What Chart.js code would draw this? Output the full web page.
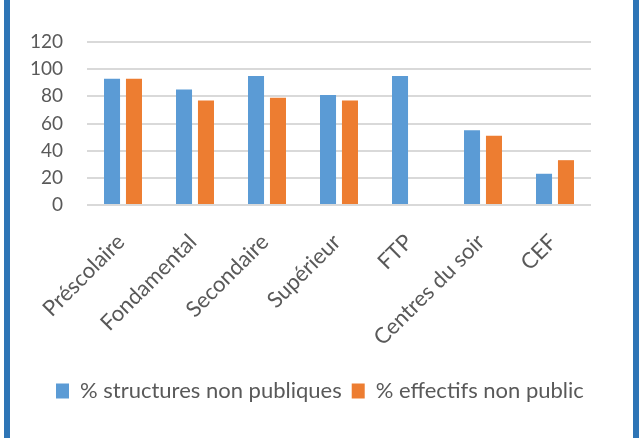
<!DOCTYPE html>
<html>
<head>
<meta charset="utf-8">
<script src="https://cdn.jsdelivr.net/npm/chart.js@4"></script>
<style>
  html, body { margin: 0; padding: 0; background: #fff; }
  #frame { position: absolute; left: 0; top: 0; width: 640px; height: 438px; background: #fff; }
  #bl { position: absolute; left: 4px; top: 0; width: 6px; height: 438px; background: #2E75B6; }
  #br { position: absolute; left: 633px; top: 0; width: 6px; height: 438px; background: #2E75B6; }
  #wrap { position: absolute; left: 10px; top: 0; width: 623px; height: 438px; }
</style>
</head>
<body>
<div id="frame">
  <div id="bl"></div>
  <div id="br"></div>
  <div id="wrap"><canvas id="c" width="623" height="438"></canvas></div>
</div>
<script>
const categories = ["Préscolaire", "Fondamental", "Secondaire", "Supérieur", "FTP", "Centres du soir", "CEF"];
const structuresNonPubliques = [93, 85, 95, 81, 95, 55, 23];
const effectifsNonPublic = [93, 77, 79, 77, null, 51, 33];
const seriesLabels = ["% structures non publiques", "% effectifs non public"];
const yTicks = [0, 20, 40, 60, 80, 100, 120];

const FONT = "Lato, 'Open Sans', sans-serif";
const TEXT = "#595959";

// shift the legend block to the right, as in the original
const legendShift = {
  id: "legendShift",
  afterLayout(chart) {
    if (chart.legend) { chart.legend.left += 20; chart.legend.right += 20; }
  }
};

new Chart(document.getElementById("c"), {
  type: "bar",
  data: {
    labels: categories,
    datasets: [
      { label: seriesLabels[0], data: structuresNonPubliques, backgroundColor: "#5B9BD5",
        categoryPercentage: 0.61, barPercentage: 0.73 },
      { label: seriesLabels[1], data: effectifsNonPublic, backgroundColor: "#ED7D31",
        categoryPercentage: 0.61, barPercentage: 0.73 }
    ]
  },
  plugins: [legendShift],
  options: {
    responsive: false,
    animation: false,
    layout: { padding: { top: 42, right: 42, left: 16, bottom: 26 } },
    plugins: {
      tooltip: { enabled: false },
      title: { display: false },
      legend: {
        position: "bottom",
        align: "start",
        labels: {
          color: TEXT,
          font: { family: FONT, size: 22 },
          boxWidth: 13,
          boxHeight: 15,
          padding: 10
        }
      }
    },
    scales: {
      x: {
        grid: { display: false },
        border: { display: false },
        ticks: {
          color: TEXT,
          font: { family: FONT, size: 22 },
          minRotation: 45,
          maxRotation: 45,
          padding: 16,
          labelOffset: -2
        },
        afterFit: (s) => { s.height = 165; }
      },
      y: {
        min: 0,
        max: 120,
        afterBuildTicks: (s) => { s.ticks = yTicks.map(v => ({ value: v })); },
        grid: { color: "#D9D9D9", lineWidth: 2, drawTicks: false },
        border: { display: false },
        ticks: {
          color: TEXT,
          font: { family: FONT, size: 19 },
          padding: 24
        },
        afterFit: (s) => { s.width = 61; }
      }
    }
  }
});
</script>
</body>
</html>
